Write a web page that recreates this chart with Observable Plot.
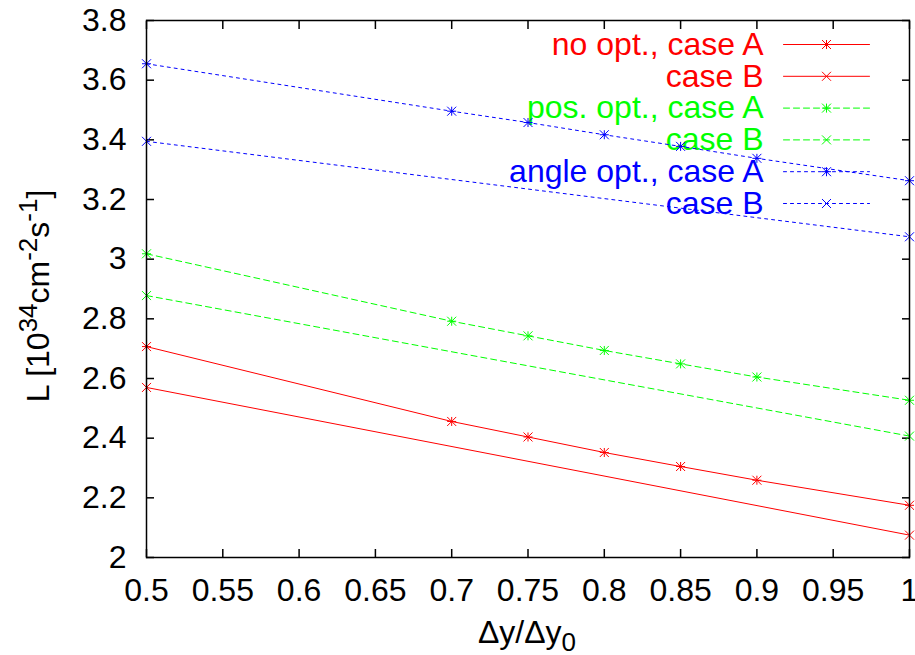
<!DOCTYPE html>
<html>
<head>
<meta charset="utf-8">
<script src="https://cdn.jsdelivr.net/npm/d3@7"></script>
<script src="https://cdn.jsdelivr.net/npm/@observablehq/plot@0.6"></script>
<style>
  body { margin: 0; background: #ffffff; }
  #chart { width: 915px; height: 655px; }
</style>
</head>
<body>
<div id="chart"></div>
<script>
// Luminosity vs. relative beam size, three optimisation strategies, two cases each
const xCaseA = [0.5, 0.7, 0.75, 0.8, 0.85, 0.9, 1.0];
const xCaseB = [0.5, 1.0];

const noOptA    = [2.707, 2.456, 2.404, 2.352, 2.305, 2.259, 2.175];
const noOptB    = [2.570, 2.075];
const posOptA   = [3.018, 2.792, 2.743, 2.694, 2.649, 2.605, 2.527];
const posOptB   = [2.878, 2.407];
const angleOptA = [3.655, 3.496, 3.458, 3.417, 3.378, 3.338, 3.263];
const angleOptB = [3.395, 3.075];

const seriesNames = ["no opt., case A", "case B", "pos. opt., case A", "case B", "angle opt., case A", "case B"];

const xTicks = [0.5, 0.55, 0.6, 0.65, 0.7, 0.75, 0.8, 0.85, 0.9, 0.95, 1.0];
const xTickLabels = ["0.5", "0.55", "0.6", "0.65", "0.7", "0.75", "0.8", "0.85", "0.9", "0.95", "1"];
const yTicks = [2, 2.2, 2.4, 2.6, 2.8, 3, 3.2, 3.4, 3.6, 3.8];
const yTickLabels = ["2", "2.2", "2.4", "2.6", "2.8", "3", "3.2", "3.4", "3.6", "3.8"];

// gnuplot-style point types: star (+ and x) and cross (x)
const starSymbol = {
  draw(ctx, size) {
    const h = Math.sqrt(size / Math.PI);
    ctx.moveTo(-h, 0); ctx.lineTo(h, 0);
    ctx.moveTo(0, -h); ctx.lineTo(0, h);
    ctx.moveTo(-h, -h); ctx.lineTo(h, h);
    ctx.moveTo(-h, h); ctx.lineTo(h, -h);
  }
};
const crossSymbol = {
  draw(ctx, size) {
    const h = Math.sqrt(size / Math.PI);
    ctx.moveTo(-h, -h); ctx.lineTo(h, h);
    ctx.moveTo(-h, h); ctx.lineTo(h, -h);
  }
};
const segmentShape = {
  draw(ctx, l) { ctx.moveTo(0, 0); ctx.lineTo(0, -l); }
};

const styles = [
  {color: "#ff0000", dash: null,  symbol: starSymbol},
  {color: "#ff0000", dash: null,  symbol: crossSymbol},
  {color: "#00ff00", dash: "6,4", symbol: starSymbol},
  {color: "#00ff00", dash: "6,4", symbol: crossSymbol},
  {color: "#0000ff", dash: "3,4", symbol: starSymbol},
  {color: "#0000ff", dash: "3,4", symbol: crossSymbol}
];
const seriesX = [xCaseA, xCaseB, xCaseA, xCaseB, xCaseA, xCaseB];
const seriesY = [noOptA, noOptB, posOptA, posOptB, angleOptA, angleOptB];

const series = seriesNames.map((name, k) => ({
  name, ...styles[k],
  rows: seriesX[k].map((x, i) => ({x, y: seriesY[k][i]}))
}));

const xFmt = new Map(xTicks.map((t, i) => [t, xTickLabels[i]]));
const yFmt = new Map(yTicks.map((t, i) => [t, yTickLabels[i]]));

const FS = 32;
const rowGap = 31.8;

const legendMarks = series.flatMap((s, k) => {
  const dy = 24 + k * rowGap;
  return [
    Plot.text([s.name], {frameAnchor: "top-right", dx: -146, dy, textAnchor: "end", lineAnchor: "middle", fill: s.color, fontSize: FS}),
    Plot.vector([0], {frameAnchor: "top-right", dx: -126, dy, length: 86, rotate: 90, anchor: "start", shape: segmentShape, stroke: s.color, strokeWidth: 1, strokeDasharray: s.dash}),
    Plot.dot([0], {frameAnchor: "top-right", dx: -83, dy, r: 4.5, symbol: s.symbol, fill: "none", stroke: s.color, strokeWidth: 1})
  ];
});

const dataMarks = series.flatMap(s => [
  Plot.line(s.rows, {x: "x", y: "y", stroke: s.color, strokeWidth: 1, strokeDasharray: s.dash}),
  Plot.dot(s.rows, {x: "x", y: "y", r: 4.5, symbol: s.symbol, fill: "none", stroke: s.color, strokeWidth: 1})
]);

const svg = Plot.plot({
  width: 915,
  height: 655,
  marginLeft: 146,
  marginRight: 6,
  marginTop: 20,
  marginBottom: 98,
  style: {fontFamily: "'Liberation Sans', Arial, Helvetica, sans-serif", fontSize: FS + "px", background: "#ffffff", color: "#000000"},
  x: {domain: [0.5, 1]},
  y: {domain: [2, 3.8]},
  marks: [
    // tick labels
    Plot.axisX(xTicks, {anchor: "bottom", tickSize: 0, tickPadding: 21, tickFormat: d => xFmt.get(d), label: null}),
    Plot.axisY(yTicks, {anchor: "left", tickSize: 0, tickPadding: 20, tickFormat: d => yFmt.get(d), label: null}),
    // inward ticks on all four sides
    Plot.axisX(xTicks, {anchor: "bottom", tickSize: -8, strokeWidth: 1.5, fill: "none", tickFormat: () => "", label: null}),
    Plot.axisX(xTicks, {anchor: "top", tickSize: -8, strokeWidth: 1.5, fill: "none", tickFormat: () => "", label: null}),
    Plot.axisY(yTicks, {anchor: "left", tickSize: -8, strokeWidth: 1.5, fill: "none", tickFormat: () => "", label: null}),
    Plot.axisY(yTicks, {anchor: "right", tickSize: -8, strokeWidth: 1.5, fill: "none", tickFormat: () => "", label: null}),
    ...legendMarks,
    ...dataMarks,
    Plot.frame({stroke: "#000000", strokeWidth: 1.5})
  ]
});

// axis titles with super-/subscripts
const s = d3.select(svg);
const yl = s.append("text")
  .attr("transform", "translate(49,296) rotate(-90)")
  .attr("text-anchor", "middle")
  .attr("fill", "#000000")
  .style("font-size", FS + "px");
const supSize = 26, raise = 12;
yl.append("tspan").text("L [10");
yl.append("tspan").attr("dy", -raise).style("font-size", supSize + "px").text("34");
yl.append("tspan").attr("dy", raise).text("cm");
yl.append("tspan").attr("dy", -raise).style("font-size", supSize + "px").text("-2");
yl.append("tspan").attr("dy", raise).text("s");
yl.append("tspan").attr("dy", -raise).style("font-size", supSize + "px").text("-1");
yl.append("tspan").attr("dy", raise).text("]");

const xl = s.append("text")
  .attr("x", 527)
  .attr("y", 643)
  .attr("text-anchor", "middle")
  .attr("fill", "#000000")
  .style("font-size", FS + "px");
xl.append("tspan").text("\u0394y/\u0394y");
xl.append("tspan").attr("dy", 8).style("font-size", supSize + "px").text("0");

document.getElementById("chart").appendChild(svg);
</script>
</body>
</html>
